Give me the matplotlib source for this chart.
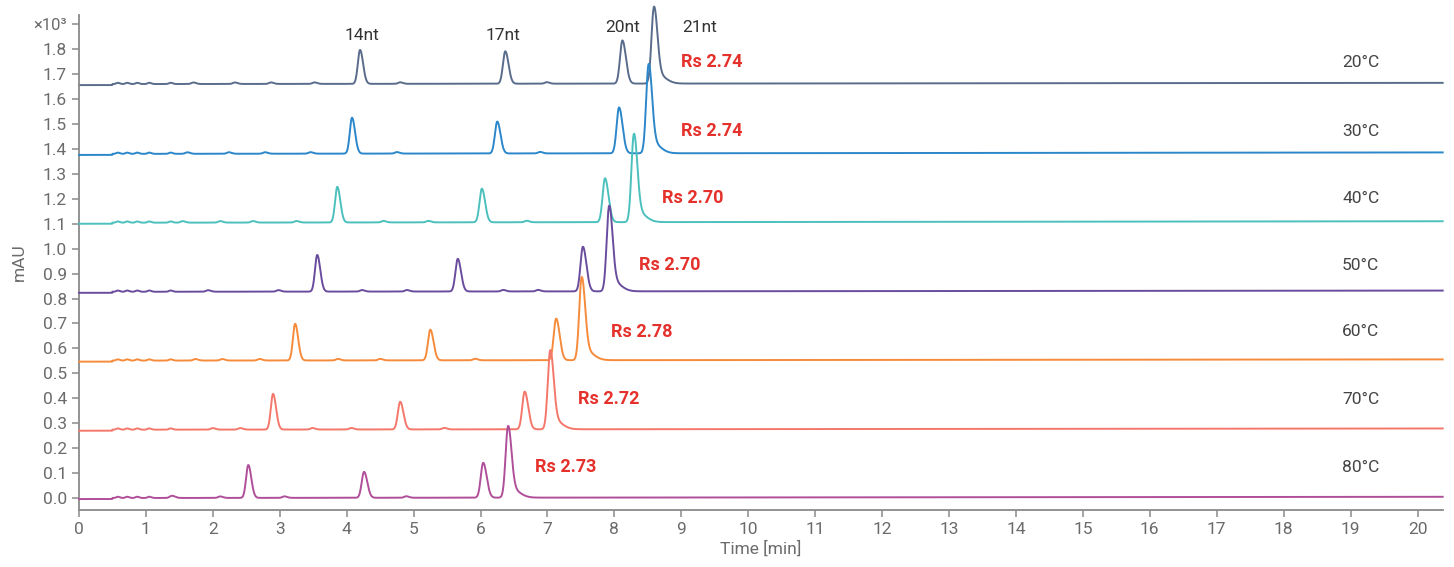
import numpy as np
import matplotlib
matplotlib.use("Agg")
from matplotlib import pyplot as plt

plt.rcParams['font.family'] = ['Roboto', 'DejaVu Sans']

# traces, coldest on top
temps = ["20°C", "30°C", "40°C", "50°C", "60°C", "70°C", "80°C"]
colors = ["#5a6c8c", "#2b87c9", "#4cc0bc", "#6a4c9e", "#f58b3b", "#f4776b", "#b04f99"]
base_start = [1.660, 1.380, 1.104, 0.827, 0.551, 0.274, 0.000]
base_end = [1.665, 1.386, 1.110, 0.832, 0.556, 0.279, 0.005]

# retention times [min] of 14nt, 17nt, 20nt, 21nt
rt_14 = [4.20, 4.08, 3.86, 3.56, 3.23, 2.90, 2.53]
rt_17 = [6.37, 6.25, 6.02, 5.66, 5.25, 4.80, 4.26]
rt_20 = [8.12, 8.07, 7.86, 7.53, 7.13, 6.66, 6.04]
rt_21 = [8.59, 8.51, 8.29, 7.92, 7.51, 7.04, 6.41]

# peak apex values (x10^3 mAU)
top_14 = [1.796, 1.524, 1.247, 0.974, 0.698, 0.417, 0.132]
top_17 = [1.790, 1.508, 1.239, 0.958, 0.674, 0.385, 0.104]
top_20 = [1.833, 1.564, 1.280, 1.006, 0.718, 0.425, 0.140]
top_21 = [1.970, 1.740, 1.460, 1.172, 0.886, 0.593, 0.289]

rs_values = ["Rs 2.74", "Rs 2.74", "Rs 2.70", "Rs 2.70", "Rs 2.78", "Rs 2.72", "Rs 2.73"]
rs_x = [8.99, 9.00, 8.71, 8.37, 7.95, 7.45, 6.81]
label_y = [1.748, 1.471, 1.203, 0.934, 0.666, 0.397, 0.124]

# small bumps right after injection (same for all runs)
early_bumps = [0.58, 0.72, 0.87, 1.05, 1.37]
# small impurity peaks per run
minor_peaks = [
    [1.71, 2.33, 2.87, 3.52, 4.80, 6.99],
    [1.62, 2.24, 2.78, 3.46, 4.75, 6.89],
    [1.55, 2.11, 2.60, 3.25, 4.55, 5.22, 6.69],
    [1.93, 2.98, 4.23, 4.90, 6.34, 6.86],
    [1.74, 2.14, 2.70, 3.87, 4.50, 5.92],
    [2.00, 2.41, 3.49, 4.07, 5.46],
    [1.41, 2.11, 3.07, 4.89],
]

nt_labels = ["14nt", "17nt", "20nt", "21nt"]
nt_x = [4.23, 6.34, 8.13, 9.28]
nt_y = [1.855, 1.855, 1.885, 1.885]

t = np.arange(0, 20.38, 0.004)


def peak(t, t0, h, sl, sr):
    s = np.where(t < t0, sl, sr)
    return h * np.exp(-0.5 * ((t - t0) / s) ** 2)


fig = plt.figure(figsize=(14.54, 5.67), dpi=100)
ax = fig.add_axes([0.0543, 0.1005, 0.9381, 0.873])

for i in range(len(temps)):
    b0 = base_start[i]
    y = b0 + (base_end[i] - b0) * t / t[-1]
    y = y - 0.004 * (t < 0.5)
    for tb in early_bumps:
        y = y + peak(t, tb, 0.005, 0.025, 0.03)
    for tb in minor_peaks[i]:
        y = y + peak(t, tb, 0.006, 0.03, 0.04)
    y = y + peak(t, rt_14[i], top_14[i] - b0, 0.033, 0.045)
    y = y + peak(t, rt_17[i], top_17[i] - b0, 0.035, 0.048)
    y = y + peak(t, rt_20[i], top_20[i] - b0, 0.036, 0.052)
    h21 = top_21[i] - b0
    y = y + peak(t, rt_21[i], h21 * 0.92, 0.036, 0.05)
    y = y + peak(t, rt_21[i] + 0.05, h21 * 0.12, 0.05, 0.12)
    ax.plot(t, y, color=colors[i], lw=1.4, clip_on=False, zorder=2 + i)
    ax.text(19.15, label_y[i], temps[i], ha="center", va="center",
            fontsize=12.5, color="#444444")
    ax.text(rs_x[i], label_y[i], rs_values[i], ha="left", va="center",
            fontsize=13, color="#e5312b", fontweight="bold", zorder=20)

for lab, xx, yy in zip(nt_labels, nt_x, nt_y):
    ax.text(xx, yy, lab, ha="center", va="center", fontsize=12.5, color="#333333")

ax.set_xlim(0, 20.38)
ax.set_ylim(-0.048, 1.937)
ax.set_xticks(range(0, 21))
yt = np.round(np.arange(0, 1.95, 0.1), 1)
ax.set_yticks(yt)
ax.set_yticklabels([f"{v:.1f}" for v in yt[:-1]] + ["×10³"])
for sp in ["top", "right"]:
    ax.spines[sp].set_visible(False)
for sp in ["left", "bottom"]:
    ax.spines[sp].set_color("#8a8a8a")
    ax.spines[sp].set_linewidth(1.3)
ax.tick_params(axis="both", colors="#8a8a8a", labelcolor="#6b6b6b",
               labelsize=12.5, length=5, width=1.1)
ax.get_yticklabels()[-1].set_fontsize(12)
ax.set_xlabel("Time [min]", fontsize=12.5, color="#6b6b6b", labelpad=3)
ax.set_ylabel("mAU", fontsize=12.5, color="#6b6b6b", labelpad=5)

fig.savefig("out.png", dpi=100)
